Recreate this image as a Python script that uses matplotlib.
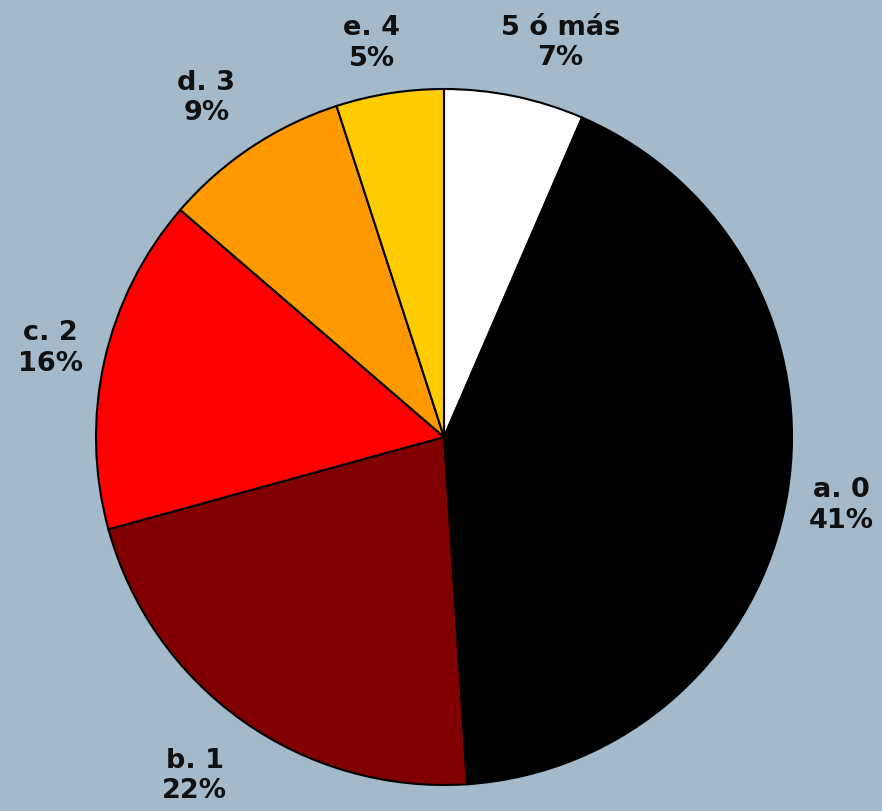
import numpy as np
import matplotlib.pyplot as plt

# slices clockwise from 12 o'clock
labels = ["5 ó más", "a. 0", "b. 1", "c. 2", "d. 3", "e. 4"]
pct_text = ["7%", "41%", "22%", "16%", "9%", "5%"]
shares = [6.5, 42.5, 21.8, 15.6, 8.7, 5.0]
colors = ["#FFFFFF", "#000000", "#800000", "#FF0000", "#FF9900", "#FFCC00"]
label_dist = [1.18, 1.158, 1.21, 1.16, 1.19, 1.15]
label_shift = [-4.8, 0, -0.9, 0, 1.4, 1.4]  # degrees, nudges like excel did

bg = "#A4B9CA"
fig = plt.figure(figsize=(8.82, 8.11), dpi=100, facecolor=bg)
ax = fig.add_axes([0, 0, 1, 1])
ax.set_facecolor(bg)

R = 348.0
cx, cy = 444.0, 437.0
wedges, _ = ax.pie(shares, colors=colors, startangle=90, counterclock=False,
                   radius=1.0, center=(0, 0),
                   wedgeprops=dict(edgecolor="black", linewidth=1.5))

for w, lab, pct, d, s in zip(wedges, labels, pct_text, label_dist, label_shift):
    mid = np.deg2rad((w.theta1 + w.theta2) / 2 + s)
    ax.text(d * np.cos(mid), d * np.sin(mid), lab + "\n" + pct,
            ha="center", va="center", fontsize=19.5, fontweight="bold",
            color="#111111", linespacing=1.22)

ax.set_xlim(-cx / R, (882 - cx) / R)
ax.set_ylim(-(811 - cy) / R, cy / R)
ax.set_aspect("auto")
ax.axis("off")

fig.savefig("out.png", dpi=100, facecolor=bg)
